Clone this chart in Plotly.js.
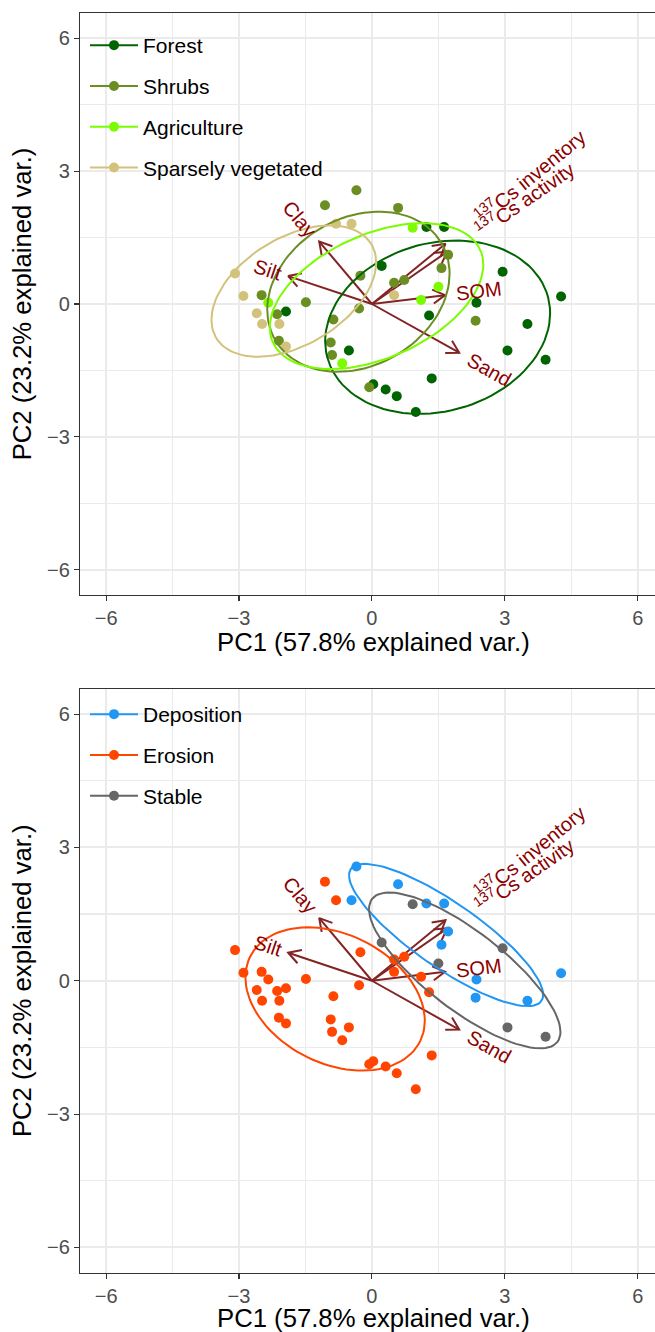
<!DOCTYPE html>
<html><head><meta charset="utf-8">
<script src="https://cdn.plot.ly/plotly-3.0.1.min.js"></script>
<style>html,body{margin:0;padding:0;background:#fff}#chart{width:655px;height:1332px}</style>
</head><body><div id="chart"></div>
<script>
// ---------------- data (PCA scores) ----------------
const pc1 = [1.23,1.63,0.22,-1.94,2.95,4.27,2.36,1.29,3.51,3.06,3.92,-0.52,1.35,0.03,0.31,0.56,0.99,
             -0.35,-1.06,0.59,1.72,1.57,-0.26,0.50,0.73,-1.49,-0.29,-2.49,-2.14,-2.10,-0.93,-0.90,2.34,-0.06,-0.87,
             0.92,1.50,1.11,-2.34,-0.67,
             -0.81,-0.46,-3.09,-2.90,-2.60,-2.48,-2.09,-1.94,0.50];
const pc2 = [1.74,1.74,0.86,-0.17,0.73,0.17,0.03,-0.26,-0.45,-1.05,-1.26,-1.05,-1.68,-1.81,-1.93,-2.08,-2.44,
             2.57,2.23,2.17,1.11,0.81,0.64,0.48,0.54,0.04,-0.10,0.20,-0.23,-0.83,-0.87,-1.15,-0.38,-1.88,-0.35,
             1.72,0.39,0.09,0.03,-1.34,
             1.81,1.81,0.69,0.18,-0.21,-0.45,-0.45,-0.96,0.20];
const landUse = ['Forest','Forest','Forest','Forest','Forest','Forest','Forest','Forest','Forest','Forest','Forest','Forest','Forest','Forest','Forest','Forest','Forest',
  'Shrubs','Shrubs','Shrubs','Shrubs','Shrubs','Shrubs','Shrubs','Shrubs','Shrubs','Shrubs','Shrubs','Shrubs','Shrubs','Shrubs','Shrubs','Shrubs','Shrubs','Shrubs',
  'Agriculture','Agriculture','Agriculture','Agriculture','Agriculture',
  'Sparsely vegetated','Sparsely vegetated','Sparsely vegetated','Sparsely vegetated','Sparsely vegetated','Sparsely vegetated','Sparsely vegetated','Sparsely vegetated','Sparsely vegetated'];
const erosionStatus = ['Deposition','Deposition','Stable','Erosion','Stable','Deposition','Deposition','Erosion','Deposition','Stable','Stable','Erosion','Erosion','Erosion','Erosion','Erosion','Erosion',
  'Deposition','Erosion','Deposition','Deposition','Deposition','Erosion','Erosion','Erosion','Erosion','Erosion','Erosion','Erosion','Erosion','Erosion','Erosion','Deposition','Erosion','Erosion',
  'Stable','Stable','Erosion','Erosion','Erosion',
  'Erosion','Deposition','Erosion','Erosion','Erosion','Erosion','Erosion','Erosion','Erosion'];
const landUseGroups = ['Forest','Shrubs','Agriculture','Sparsely vegetated'];
const landUseColors = ['#006400','#6B8E23','#7CFC00','#D2C27B'];
const statusGroups = ['Deposition','Erosion','Stable'];
const statusColors = ['#2196F3','#FF4500','#666666'];
const varLabels = ['Clay','Silt','Sand','SOM','<sup>137</sup>Cs inventory','<sup>137</sup>Cs activity'];
const varPlain  = [['Clay',''],['Silt',''],['Sand',''],['SOM',''],['Cs inventory','137'],['Cs activity','137']];
const varPC1 = [-1.19,-1.89,1.97,1.65,1.66,1.70];
const varPC2 = [1.41,0.63,-1.10,0.20,1.36,1.18];
const tickVals = [-6,-3,0,3,6];
const xTitle = 'PC1 (57.8% explained var.)';
const yTitle = 'PC2 (23.2% explained var.)';

// ---------------- layout constants ----------------
const W = 655, H = 1332;
const xRange = [-6.59, 6.39], yRange = [-6.57, 6.57];
const xDom = [80/W, 1];
const topDom = [(H-595)/H, (H-13)/H];
const botDom = [(H-1272.7)/H, (H-688.8)/H];
const pxPerUnit = W*(xDom[1]-xDom[0])/(xRange[1]-xRange[0]);
const FONT = 'Liberation Sans, Arial, Helvetica, sans-serif';
const ARROW = '#832424', LABEL = '#8B0000';

function ellipsePts(xs, ys){
  const n = xs.length;
  const mx = xs.reduce((a,b)=>a+b,0)/n, my = ys.reduce((a,b)=>a+b,0)/n;
  let sxx=0, syy=0, sxy=0;
  for(let i=0;i<n;i++){ sxx+=(xs[i]-mx)**2; syy+=(ys[i]-my)**2; sxy+=(xs[i]-mx)*(ys[i]-my); }
  sxx/=(n-1); syy/=(n-1); sxy/=(n-1);
  const a=Math.sqrt(sxx), b=sxy/a, c=Math.sqrt(syy-b*b);
  const ed=Math.sqrt(-2*Math.log(1-0.68));
  const ex=[], ey=[];
  for(let k=0;k<=100;k++){ const t=-Math.PI+2*Math.PI*k/100;
    ex.push(mx+ed*a*Math.cos(t)); ey.push(my+ed*(b*Math.cos(t)+c*Math.sin(t))); }
  return [ex, ey];
}

const ctx = document.createElement('canvas').getContext('2d');
function textW(main, sup){
  ctx.font = '20px '+FONT; let w = ctx.measureText(main).width;
  if(sup){ w += ctx.measureText(sup).width; }
  return w;
}

function buildPanel(groupVar, groups, colors, xa, ya, legendName){
  const traces = [], ann = [];
  const sx=[], sy=[], hx=[], hy=[];
  const L = 14/pxPerUnit, ang = 30*Math.PI/180;
  for(let i=0;i<varPC1.length;i++){
    const vx=varPC1[i], vy=varPC2[i];
    sx.push(0,vx,null); sy.push(0,vy,null);
    const r=Math.hypot(vx,vy), ux=vx/r, uy=vy/r;
    for(const s of [1,-1]){
      const ca=Math.cos(s*ang), sa=Math.sin(s*ang);
      const dx=ux*ca-uy*sa, dy=ux*sa+uy*ca;
      hx.push(vx-L*dx); hy.push(vy-L*dy);
      hx.push(vx); hy.push(vy);
    }
    hx.push(null); hy.push(null);
    const w = textW(varPlain[i][0], varPlain[i][1])/pxPerUnit;
    const cx = vx + ux*0.75*w, cy = vy + uy*0.75*w;
    const deg = Math.atan(vy/vx)*180/Math.PI;
    ann.push({x:cx, y:cy, xref:xa, yref:ya, text:varLabels[i], showarrow:false,
      textangle:-deg, xanchor:'center', yanchor:'middle',
      font:{family:FONT, size:20, color:LABEL}});
  }
  traces.push({type:'scatter', mode:'lines', x:sx, y:sy, xaxis:xa, yaxis:ya, showlegend:false, hoverinfo:'skip',
    line:{color:ARROW, width:2}});
  traces.push({type:'scatter', mode:'lines', x:hx, y:hy, xaxis:xa, yaxis:ya, showlegend:false, hoverinfo:'skip',
    line:{color:ARROW, width:2}});
  groups.forEach((g,gi)=>{
    const xs=[], ys=[];
    for(let i=0;i<pc1.length;i++) if(groupVar[i]===g){ xs.push(pc1[i]); ys.push(pc2[i]); }
    traces.push({type:'scatter', mode:'markers', x:xs, y:ys, xaxis:xa, yaxis:ya, name:g, showlegend:false,
      marker:{color:colors[gi], size:10}});
  });
  groups.forEach((g,gi)=>{
    const xs=[], ys=[];
    for(let i=0;i<pc1.length;i++) if(groupVar[i]===g){ xs.push(pc1[i]); ys.push(pc2[i]); }
    const [ex,ey]=ellipsePts(xs,ys);
    traces.push({type:'scatter', mode:'lines', x:ex, y:ey, xaxis:xa, yaxis:ya, showlegend:false, hoverinfo:'skip',
      line:{color:colors[gi], width:2}});
  });
  groups.forEach((g,gi)=>{
    traces.push({type:'scatter', mode:'lines+markers', x:[null], y:[null], xaxis:xa, yaxis:ya, name:g,
      legend:legendName, legendgroup:legendName+gi, showlegend:true,
      line:{color:colors[gi], width:2}, marker:{color:colors[gi], size:10}});
  });
  return [traces, ann];
}

const [t1,a1] = buildPanel(landUse, landUseGroups, landUseColors, 'x', 'y', 'legend');
const [t2,a2] = buildPanel(erosionStatus, statusGroups, statusColors, 'x2', 'y2', 'legend2');

// x-axis titles (centred on the full, partly cropped panel)
const titleAnn = [
  {text:xTitle, xref:'paper', yref:'paper', x:373/W, y:1-642/H, xanchor:'center', yanchor:'middle', showarrow:false,
   height:28, font:{family:FONT, size:25.7, color:'#000'}},
  {text:xTitle, xref:'paper', yref:'paper', x:373/W, y:1-1317.5/H, xanchor:'center', yanchor:'middle', showarrow:false,
   height:28, font:{family:FONT, size:25.7, color:'#000'}}
];

function xaxis(dom, anchor){
  return {domain:xDom, anchor:anchor, range:xRange, tickvals:tickVals, ticks:'outside', ticklen:5, tickwidth:1.1,
    tickcolor:'#333333', showline:true, linecolor:'#333333', linewidth:1.1, mirror:true,
    showgrid:true, gridcolor:'#EBEBEB', gridwidth:2, zeroline:false,
    minor:{tickvals:[-4.5,-1.5,1.5,4.5], showgrid:true, gridcolor:'#EBEBEB', gridwidth:1.2, ticks:''},
    tickfont:{family:FONT, size:20, color:'#4D4D4D'}, automargin:false, fixedrange:true};
}
function yaxis(dom, anchor){
  return {domain:dom, anchor:anchor, range:yRange, tickvals:tickVals, ticks:'outside', ticklen:5, tickwidth:1.1,
    tickcolor:'#333333', showline:true, linecolor:'#333333', linewidth:1.1, mirror:false,
    showgrid:true, gridcolor:'#EBEBEB', gridwidth:2, zeroline:false,
    minor:{tickvals:[-4.5,-1.5,1.5,4.5], showgrid:true, gridcolor:'#EBEBEB', gridwidth:1.2, ticks:''},
    tickfont:{family:FONT, size:20, color:'#4D4D4D'},
    title:{text:yTitle, font:{family:FONT, size:25.7, color:'#000'}, standoff:8}, automargin:false, fixedrange:true};
}

const legendCommon = {bgcolor:'rgba(0,0,0,0)', borderwidth:0, font:{family:FONT, size:21, color:'#000'},
  traceorder:'grouped', tracegroupgap:10.5, itemwidth:48, xanchor:'left', yanchor:'top', itemclick:false, itemdoubleclick:false};

const layout = {
  width:W, height:H, margin:{l:0,r:0,t:0,b:0}, paper_bgcolor:'#fff', plot_bgcolor:'#fff',
  font:{family:FONT},
  xaxis:xaxis(topDom,'y'), yaxis:yaxis(topDom,'x'),
  xaxis2:xaxis(botDom,'y2'), yaxis2:yaxis(botDom,'x2'),
  legend:Object.assign({x:85/W, y:1-25/H}, legendCommon),
  legend2:Object.assign({x:85/W, y:1-(694)/H}, legendCommon),
  annotations:a1.concat(a2).concat(titleAnn),
  showlegend:true
};

Plotly.newPlot('chart', t1.concat(t2), layout, {staticPlot:true, displayModeBar:false});
</script>
</body></html>
